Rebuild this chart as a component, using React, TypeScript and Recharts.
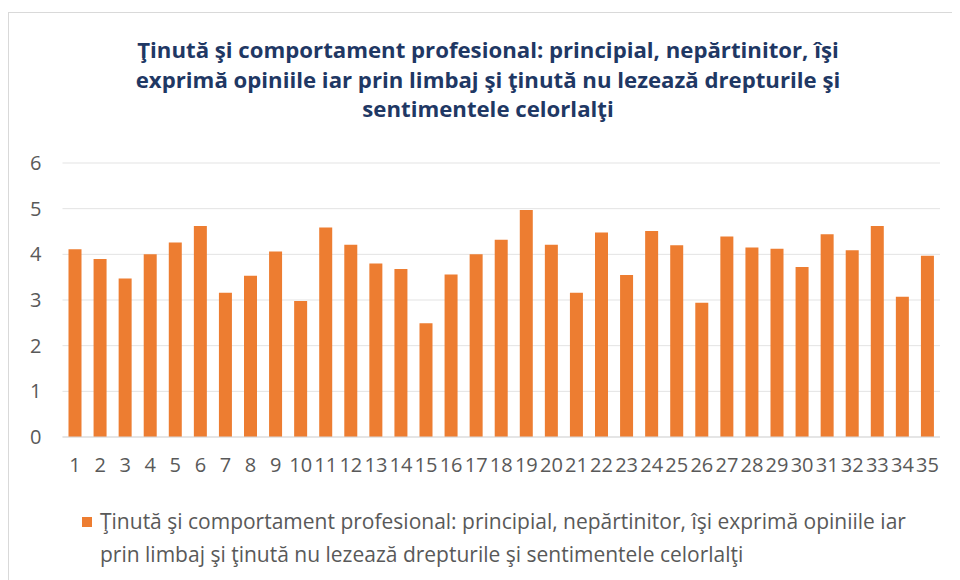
import React from 'react';
import {
  BarChart,
  Bar,
  XAxis,
  YAxis,
  CartesianGrid,
  Legend,
} from 'recharts';

const SERIES_NAME =
  'Ţinută şi comportament profesional: principial, nepărtinitor, îşi exprimă opiniile iar prin limbaj şi ţinută nu lezează drepturile şi sentimentele celorlalţi';

const TITLE_LINES = [
  'Ţinută şi comportament profesional: principial, nepărtinitor, îşi',
  'exprimă opiniile iar prin limbaj şi ţinută nu lezează drepturile şi',
  'sentimentele celorlalţi',
];

const categories = [
  '1', '2', '3', '4', '5', '6', '7', '8', '9', '10', '11', '12',
  '13', '14', '15', '16', '17', '18', '19', '20', '21', '22', '23', '24',
  '25', '26', '27', '28', '29', '30', '31', '32', '33', '34', '35',
];

const scores = [
  4.11, 3.9, 3.47, 4.0, 4.26, 4.62, 3.16, 3.53, 4.06, 2.98, 4.59, 4.21,
  3.8, 3.68, 2.49, 3.56, 4.0, 4.32, 4.97, 4.21, 3.16, 4.48, 3.55, 4.51,
  4.2, 2.94, 4.39, 4.15, 4.12, 3.72, 4.44, 4.09, 4.62, 3.07, 3.97,
];

const yTicks = [0, 1, 2, 3, 4, 5, 6];

const data = categories.map((c, i) => ({ name: c, value: scores[i] }));

const ORANGE = '#ED7D31';
const GREY = '#595959';
const FONT = '"Open Sans", Calibri, sans-serif';

function LegendContent({ payload }: any) {
  const item = payload?.[0];
  if (!item) return null;
  return (
    <div style={{ display: 'flex', alignItems: 'flex-start' }}>
      <span
        style={{
          display: 'inline-block',
          width: 10,
          height: 10,
          background: item.color,
          marginTop: 12,
          marginRight: 8,
          flexShrink: 0,
        }}
      />
      <span
        style={{
          fontFamily: FONT,
          fontSize: 21,
          lineHeight: '33px',
          color: GREY,
          width: 840,
        }}
      >
        {item.value}
      </span>
    </div>
  );
}

export default function App() {
  return (
    <div
      style={{
        position: 'relative',
        width: 952,
        height: 572,
        overflow: 'hidden',
        background: '#fff',
      }}
    >
      <div
        style={{
          position: 'absolute',
          left: 0,
          top: 4,
          width: 945,
          height: 600,
          border: '1px solid #d9d9d9',
          boxSizing: 'border-box',
        }}
      />
      <div
        style={{
          position: 'absolute',
          left: 30,
          top: 27,
          width: 900,
          textAlign: 'center',
          fontFamily: FONT,
          fontWeight: 700,
          fontSize: 22.2,
          lineHeight: '29.5px',
          color: '#1F3864',
        }}
      >
        {TITLE_LINES.map((l, i) => (
          <div key={i}>{l}</div>
        ))}
      </div>
      <div style={{ position: 'absolute', left: 0, top: 132 }}>
        <BarChart
          width={946}
          height={440}
          data={data}
          margin={{ top: 23, right: 14, bottom: 98, left: 0 }}
        >
          <CartesianGrid vertical={false} stroke="#e3e3e3" />
          <XAxis
            dataKey="name"
            interval={0}
            tickLine={false}
            axisLine={{ stroke: '#d9d9d9' }}
            tickSize={0}
            tickMargin={21}
            height={45}
            tick={{ fill: GREY, fontSize: 20, fontFamily: FONT }}
          />
          <YAxis
            domain={[0, 6]}
            ticks={yTicks}
            width={54.5}
            tickLine={false}
            axisLine={false}
            tickSize={0}
            tickMargin={21}
            tick={{ fill: GREY, fontSize: 20, fontFamily: FONT }}
          />
          <Legend
            layout="horizontal"
            verticalAlign="middle"
            align="center"
            wrapperStyle={{ top: 365, left: 74, width: 880 }}
            content={<LegendContent />}
          />
          <Bar
            dataKey="value"
            name={SERIES_NAME}
            fill={ORANGE}
            barSize={13}
            isAnimationActive={false}
          />
        </BarChart>
      </div>
    </div>
  );
}
